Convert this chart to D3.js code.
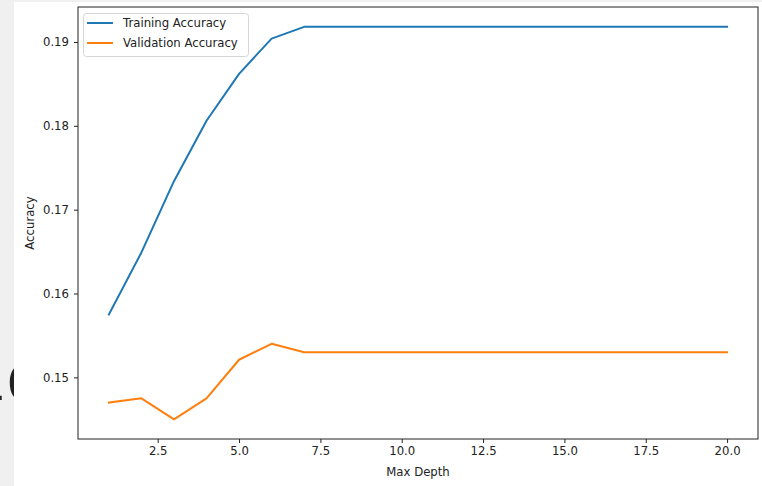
<!DOCTYPE html>
<meta charset="utf-8">
<script src="https://d3js.org/d3.v7.min.js"></script>
<style>
  body { margin: 0; background: #f0f0f0; }
  text { font-family: "DejaVu Sans", sans-serif; fill: #222; }
</style>
<div id="chart"></div>
<script>

// data
var depths = [1, 2, 3, 4, 5, 6, 7, 8, 9, 10, 11, 12, 13, 14, 15, 16, 17, 18, 19, 20];
var trainAcc = [0.1575, 0.1649, 0.1734, 0.1806, 0.1862, 0.1904, 0.1918, 0.1918, 0.1918, 0.1918,
                0.1918, 0.1918, 0.1918, 0.1918, 0.1918, 0.1918, 0.1918, 0.1918, 0.1918, 0.1918];
var valAcc = [0.1470, 0.1475, 0.1450, 0.1475, 0.1521, 0.1540, 0.1530, 0.1530, 0.1530, 0.1530,
              0.1530, 0.1530, 0.1530, 0.1530, 0.1530, 0.1530, 0.1530, 0.1530, 0.1530, 0.1530];
var xTicks = [2.5, 5.0, 7.5, 10.0, 12.5, 15.0, 17.5, 20.0];
var yTicks = [0.15, 0.16, 0.17, 0.18, 0.19];
var seriesNames = ["Training Accuracy", "Validation Accuracy"];
var colors = ["#1f77b4", "#ff7f0e"];

var W = 762, H = 486;
var margin = {top: 7, right: 4, bottom: 47, left: 78};

var svg = d3.select("#chart").append("svg")
    .attr("width", W)
    .attr("height", H)
    .style("display", "block");

// gray surround with the cut-off leftover text
svg.append("rect").attr("width", W).attr("height", H).attr("fill", "#f0f0f0");
svg.append("text")
    .attr("x", 38).attr("y", 400)
    .attr("text-anchor", "end")
    .style("font-size", "50px")
    .attr("fill", "#333")
    .text("0.16");

// figure area
svg.append("rect")
    .attr("x", 14).attr("y", 2)
    .attr("width", W - 14).attr("height", H - 2)
    .attr("fill", "white");

var g = svg.append("g");

var x = d3.scaleLinear()
    .domain([0.05, 20.95])
    .range([margin.left, W - margin.right]);

var y = d3.scaleLinear()
    .domain([0.14265, 0.19417])
    .range([H - margin.bottom, margin.top]);

// x axis
var xAxis = g.append("g")
    .attr("transform", "translate(0," + (H - margin.bottom) + ")")
    .call(d3.axisBottom(x).tickValues(xTicks).tickFormat(d3.format(".1f")).tickSize(4).tickPadding(4));
xAxis.select(".domain").remove();

// y axis
var yAxis = g.append("g")
    .attr("transform", "translate(" + margin.left + ",0)")
    .call(d3.axisLeft(y).tickValues(yTicks).tickFormat(d3.format(".2f")).tickSize(4).tickPadding(5));
yAxis.select(".domain").remove();

g.selectAll(".tick text")
    .style("font-size", "11.7px")
    .style("font-family", "DejaVu Sans, sans-serif")
    .attr("fill", "#222");
g.selectAll(".tick line").attr("stroke", "#222");

// lines
var line = d3.line()
    .x(function(d, i) { return x(depths[i]); })
    .y(function(d) { return y(d); });

[trainAcc, valAcc].forEach(function(s, i) {
  g.append("path")
      .datum(s)
      .attr("d", line)
      .attr("fill", "none")
      .attr("stroke", colors[i])
      .attr("stroke-width", 2)
      .attr("stroke-linejoin", "round")
      .attr("stroke-linecap", "square");
});

// frame
g.append("rect")
    .attr("x", margin.left)
    .attr("y", margin.top)
    .attr("width", W - margin.right - margin.left)
    .attr("height", H - margin.bottom - margin.top)
    .attr("fill", "none")
    .attr("stroke", "#222")
    .attr("stroke-width", 1);

// axis labels
svg.append("text")
    .attr("x", (margin.left + W - margin.right) / 2)
    .attr("y", 476)
    .attr("text-anchor", "middle")
    .style("font-size", "11.7px")
    .text("Max Depth");

svg.append("text")
    .attr("transform", "translate(34," + ((margin.top + H - margin.bottom) / 2) + ") rotate(-90)")
    .attr("text-anchor", "middle")
    .style("font-size", "11.7px")
    .text("Accuracy");

// legend
var legend = svg.append("g");
legend.append("rect")
    .attr("x", 83.5).attr("y", 13.5)
    .attr("width", 165).attr("height", 43)
    .attr("rx", 3)
    .attr("fill", "white")
    .attr("fill-opacity", 0.8)
    .attr("stroke", "#d6d6d6");

seriesNames.forEach(function(name, i) {
  var ly = 23 + i * 20;
  legend.append("line")
      .attr("x1", 87).attr("x2", 113)
      .attr("y1", ly).attr("y2", ly)
      .attr("stroke", colors[i])
      .attr("stroke-width", 2);
  legend.append("text")
      .attr("x", 123)
      .attr("y", ly + 4.2)
      .style("font-size", "11.7px")
      .text(name);
});
</script>
